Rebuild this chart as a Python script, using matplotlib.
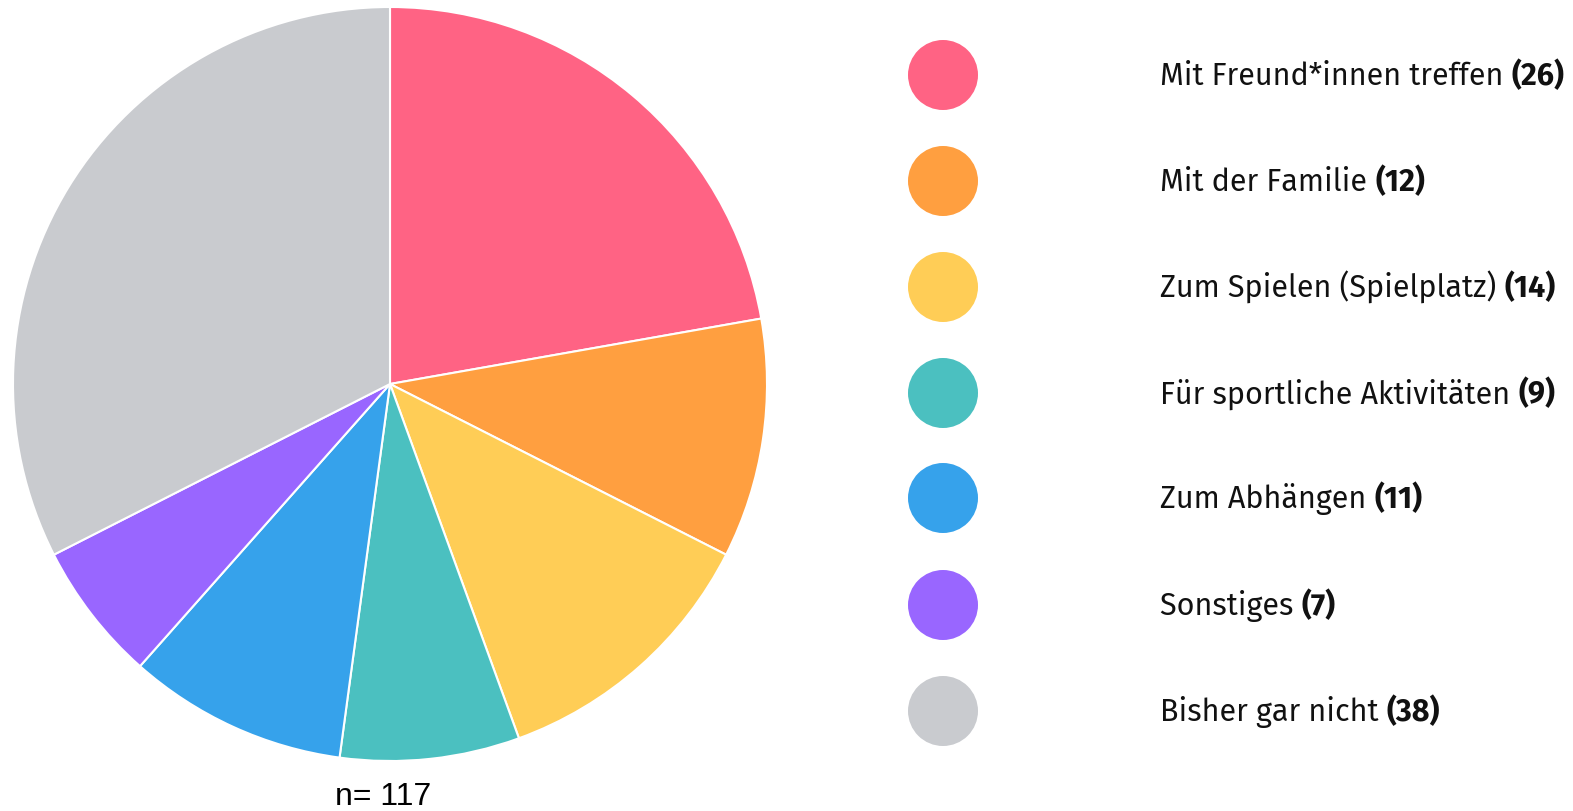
import matplotlib
matplotlib.use("Agg")
import matplotlib.pyplot as plt
from matplotlib.patches import Ellipse

labels = ["Mit Freund*innen treffen", "Mit der Familie", "Zum Spielen (Spielplatz)",
          "Für sportliche Aktivitäten", "Zum Abhängen", "Sonstiges", "Bisher gar nicht"]
counts = [26, 12, 14, 9, 11, 7, 38]
colors = ["#FF6384", "#FF9F40", "#FFCD56", "#4BC0C0", "#36A2EB", "#9966FF", "#C9CBCF"]

W, H = 1573, 812
fig = plt.figure(figsize=(W / 100, H / 100), dpi=100)

# pie: centre ~(390, 385) px, radius ~376 px
cx, cy, r = 390, 385, 377
ax = fig.add_axes([(cx - r) / W, (H - cy - r) / H, 2 * r / W, 2 * r / H])
ax.pie(counts, colors=colors, startangle=90, counterclock=False,
       wedgeprops=dict(edgecolor="white", linewidth=1.5))
ax.set_xlim(-1.0, 1.0)
ax.set_ylim(-1.0, 1.0)
ax.set_aspect("equal")
ax.axis("off")

# overlay in pixel coords for legend and note
ov = fig.add_axes([0, 0, 1, 1])
ov.set_xlim(0, W)
ov.set_ylim(H, 0)
ov.axis("off")

row_y = [76, 182, 288, 394, 499, 606, 712]
fnt = ["Fira Sans", "Open Sans", "DejaVu Sans"]
for lab, n, c, y in zip(labels, counts, colors, row_y):
    ov.add_patch(Ellipse((943, y), 70, 70, facecolor=c, edgecolor="none"))
    t = ov.text(1160, y, lab + " ", fontsize=22, va="center", ha="left",
                color="#111111", family=fnt)
    ov.annotate(f"({n})", xy=(1, 0.5), xycoords=t, va="center", ha="left",
                fontsize=22, fontweight="bold", color="#111111", family=fnt)

ov.text(383, 797, "n= 117", fontsize=23, ha="center", va="center",
        family=["Liberation Sans", "DejaVu Sans"], color="black")

fig.savefig("out.png", dpi=100)
